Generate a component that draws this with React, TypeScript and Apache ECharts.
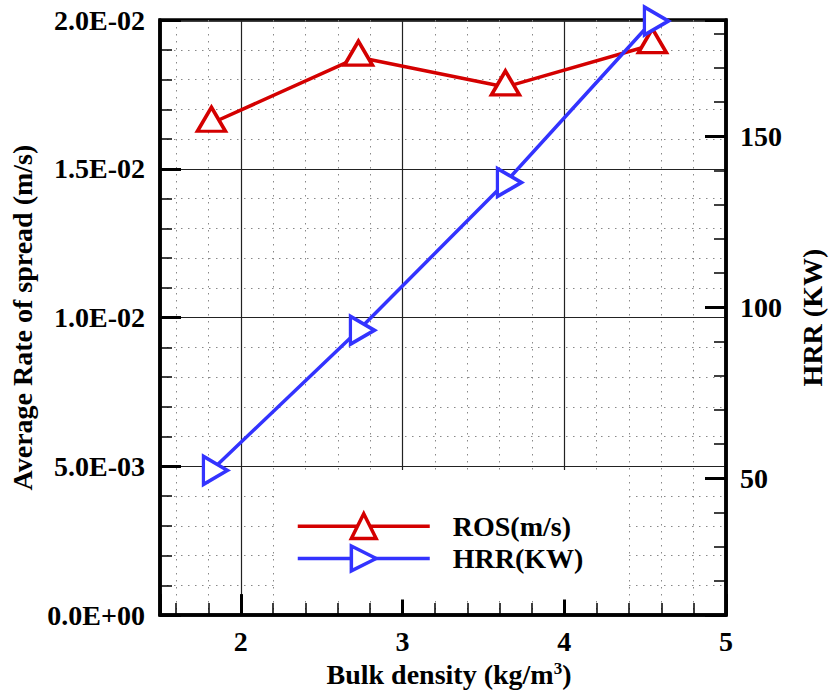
import React, { useEffect, useRef } from "react";
import * as echarts from "echarts";

const bulkDensity = [1.818, 2.727, 3.636, 4.545];
const rosValues = [0.01653, 0.01875, 0.01775, 0.01917];
const hrrValues = [52.3, 93.3, 136.5, 183.7];
const seriesNames = ["ROS(m/s)", "HRR(KW)"];

const FONT = "'Liberation Serif', 'Times New Roman', serif";
const RED = "#d40000";
const BLUE = "#3333ff";

function fmtExp(v: number): string {
  const [m, e] = v.toExponential(1).split("e");
  const sign = e[0] === "-" ? "-" : "+";
  const d = Math.abs(parseInt(e, 10)).toString().padStart(2, "0");
  return `${m}E${sign}${d}`;
}

export default function App() {
  const ref = useRef<HTMLDivElement>(null);
  useEffect(() => {
    if (!ref.current) return;
    const chart = echarts.init(ref.current, null, { renderer: "svg" });
    const labelStyle = { fontFamily: FONT, fontWeight: "bold" as const, fontSize: 28, color: "#000" };
    const majorTick = { show: true, inside: true, length: 21, lineStyle: { color: "#000", width: 3 } };
    const minorTick = { show: true, splitNumber: 5, length: 12, lineStyle: { color: "#000", width: 1.5 } };
    const majorSplit = { show: true, lineStyle: { color: "#222", width: 1.2 } };
    const minorSplit = { show: true, lineStyle: { color: "#888", width: 1, type: [1.5, 5.5] } };
    const axisLine = { show: true, lineStyle: { color: "#000", width: 3.5 } };

    chart.setOption({
      animation: false,
      backgroundColor: "#fff",
      grid: { left: 160, top: 20, right: 103, bottom: 75, show: true, borderColor: "#000", borderWidth: 3.5, backgroundColor: "transparent" },
      legend: {
        orient: "vertical",
        left: 278,
        top: 470,
        padding: [42, 45, 27, 18],
        itemWidth: 132,
        itemHeight: 31,
        itemGap: 4,
        backgroundColor: "#fff",
        lineStyle: { width: 3.5 },
        itemStyle: { borderWidth: 3.5 },
        textStyle: { ...labelStyle, padding: [0, 0, 0, 18] },
        data: seriesNames,
      },
      xAxis: {
        type: "value",
        min: 1.5,
        max: 5,
        splitNumber: 3,
        axisLine,
        axisTick: majorTick,
        minorTick,
        splitLine: majorSplit,
        minorSplitLine: minorSplit,
        axisLabel: {
          ...labelStyle,
          margin: 12,
          formatter: (v: number) => (Math.abs(v - Math.round(v)) < 1e-9 ? String(Math.round(v)) : ""),
        },
        name: "Bulk density (kg/m{sup|3})",
        nameLocation: "middle",
        nameGap: 29,
        nameTextStyle: {
          ...labelStyle,
          padding: [0, 0, 0, 12],
          rich: {
            sup: { fontFamily: FONT, fontWeight: "bold", fontSize: 17, color: "#000", verticalAlign: "top", lineHeight: 20 },
          },
        },
      },
      yAxis: [
        {
          type: "value",
          min: 0,
          max: 0.02,
          interval: 0.005,
          position: "left",
          axisLine,
          axisTick: majorTick,
          minorTick,
          splitLine: majorSplit,
          minorSplitLine: minorSplit,
          axisLabel: { ...labelStyle, margin: 15, formatter: (v: number) => fmtExp(v) },
          name: "Average Rate of spread (m/s)",
          nameLocation: "middle",
          nameRotate: 90,
          nameGap: 118,
          nameTextStyle: labelStyle,
        },
        {
          type: "value",
          min: 10,
          max: 184,
          splitNumber: 3,
          position: "right",
          axisLine,
          axisTick: majorTick,
          minorTick,
          splitLine: { show: false },
          minorSplitLine: { show: false },
          axisLabel: {
            ...labelStyle,
            margin: 14,
            formatter: (v: number) => (Math.abs(v % 50) < 1e-9 ? String(v) : ""),
          },
          name: "HRR (KW)",
          nameLocation: "middle",
          nameRotate: 90,
          nameGap: 72,
          nameTextStyle: labelStyle,
        },
      ],
      series: [
        {
          name: seriesNames[0],
          type: "line",
          yAxisIndex: 0,
          data: bulkDensity.map((x, i) => [x, rosValues[i]]),
          symbol: "triangle",
          symbolSize: [28, 24],
          symbolOffset: [0, -4],
          lineStyle: { color: RED, width: 3.5 },
          itemStyle: { color: "#fff", borderColor: RED, borderWidth: 3.5 },
          z: 3,
        },
        {
          name: seriesNames[1],
          type: "line",
          yAxisIndex: 1,
          data: bulkDensity.map((x, i) => [x, hrrValues[i]]),
          symbol: "triangle",
          symbolSize: [28, 24],
          symbolRotate: -90,
          symbolOffset: [4, 0],
          lineStyle: { color: BLUE, width: 3.5 },
          itemStyle: { color: "#fff", borderColor: BLUE, borderWidth: 3.5 },
          z: 4,
        },
      ],
    });
    return () => chart.dispose();
  }, []);
  return <div ref={ref} style={{ position: "absolute", left: 0, top: 0, width: 834, height: 693 }} />;
}
